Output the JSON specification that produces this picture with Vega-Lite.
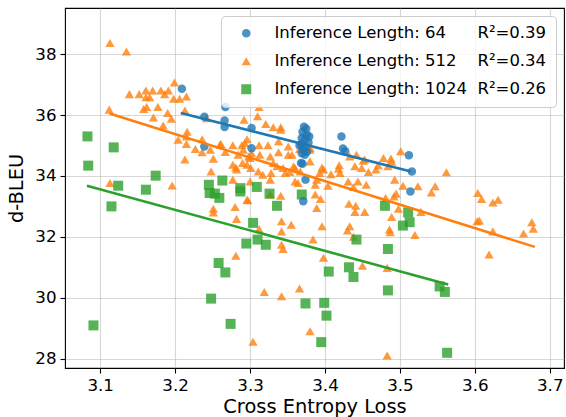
{
  "$schema": "https://vega.github.io/schema/vega-lite/v6.json",
  "width": 499,
  "height": 360,
  "autosize": {"type": "none"},
  "padding": {"left": 65, "top": 8, "right": 2, "bottom": 49},
  "background": "white",
  "config": {
    "font": "DejaVu Sans",
    "view": {"stroke": "black", "strokeWidth": 1.1},
    "axis": {
      "labelFont": "DejaVu Sans", "labelFontSize": 16.7, "labelColor": "black",
      "titleFont": "DejaVu Sans", "titleFontSize": 19.4, "titleFontWeight": "normal", "titleColor": "black",
      "tickColor": "black", "tickSize": 5, "tickWidth": 1.1, "labelPadding": 4,
      "domain": false, "gridColor": "#b0b0b0", "gridOpacity": 0.5, "gridWidth": 1.1
    },
    "legend": {
      "labelFont": "DejaVu Sans", "labelFontSize": 16.5, "labelColor": "black",
      "orient": "top-right", "offset": 8, "padding": 9, "symbolOffset": 8,
      "labelOffset": 20, "rowPadding": 11, "cornerRadius": 4,
      "strokeColor": "#cccccc", "fillColor": "rgba(255,255,255,0.8)",
      "symbolSize": 72, "symbolOpacity": 0.8, "symbolStrokeWidth": 0, "title": null,
      "labelLimit": 400
    }
  },
  "datasets": {
    "pts": [
      {"s":"512","x":3.113,"y":38.37},{"s":"512","x":3.135,"y":38.09},{"s":"512","x":3.199,"y":37.07},{"s":"512","x":3.139,"y":36.69},
      {"s":"512","x":3.152,"y":36.69},{"s":"512","x":3.161,"y":36.81},{"s":"512","x":3.170,"y":36.81},{"s":"512","x":3.161,"y":36.59},
      {"s":"512","x":3.166,"y":36.59},{"s":"512","x":3.181,"y":36.81},{"s":"512","x":3.186,"y":36.69},{"s":"512","x":3.191,"y":36.81},
      {"s":"512","x":3.198,"y":36.54},{"s":"512","x":3.206,"y":36.54},{"s":"512","x":3.215,"y":36.61},{"s":"512","x":3.213,"y":36.15},
      {"s":"512","x":3.112,"y":36.18},{"s":"512","x":3.158,"y":36.20},{"s":"512","x":3.162,"y":36.27},{"s":"512","x":3.177,"y":36.27},
      {"s":"512","x":3.190,"y":36.07},{"s":"512","x":3.171,"y":35.92},{"s":"512","x":3.195,"y":35.88},{"s":"512","x":3.184,"y":35.66},
      {"s":"512","x":3.242,"y":35.90},{"s":"512","x":3.216,"y":35.45},{"s":"512","x":3.204,"y":35.19},{"s":"512","x":3.215,"y":35.05},
      {"s":"512","x":3.227,"y":34.89},{"s":"512","x":3.236,"y":35.21},{"s":"512","x":3.213,"y":34.54},{"s":"512","x":3.236,"y":34.78},
      {"s":"512","x":3.251,"y":34.57},{"s":"512","x":3.248,"y":34.15},{"s":"512","x":3.261,"y":35.05},{"s":"512","x":3.277,"y":35.01},
      {"s":"512","x":3.293,"y":35.08},{"s":"512","x":3.292,"y":35.85},{"s":"512","x":3.312,"y":36.27},{"s":"512","x":3.310,"y":35.96},
      {"s":"512","x":3.321,"y":35.71},{"s":"512","x":3.331,"y":35.60},{"s":"512","x":3.341,"y":35.60},{"s":"512","x":3.324,"y":35.01},
      {"s":"512","x":3.312,"y":35.01},{"s":"512","x":3.296,"y":35.21},{"s":"512","x":3.289,"y":35.01},{"s":"512","x":3.302,"y":34.75},
      {"s":"512","x":3.313,"y":34.70},{"s":"512","x":3.290,"y":34.43},{"s":"512","x":3.284,"y":34.70},{"s":"512","x":3.277,"y":34.37},
      {"s":"512","x":3.301,"y":34.26},{"s":"512","x":3.311,"y":34.15},{"s":"512","x":3.327,"y":34.64},{"s":"512","x":3.338,"y":34.78},
      {"s":"512","x":3.336,"y":34.32},{"s":"512","x":3.328,"y":34.10},{"s":"512","x":3.327,"y":33.88},{"s":"512","x":3.317,"y":34.04},
      {"s":"512","x":3.351,"y":34.70},{"s":"512","x":3.358,"y":34.32},{"s":"512","x":3.353,"y":34.13},{"s":"512","x":3.366,"y":34.89},
      {"s":"512","x":3.367,"y":34.15},{"s":"512","x":3.360,"y":33.82},{"s":"512","x":3.389,"y":33.88},{"s":"512","x":3.277,"y":33.88},
      {"s":"512","x":3.300,"y":33.82},{"s":"512","x":3.196,"y":33.69},{"s":"512","x":3.113,"y":33.77},{"s":"512","x":3.341,"y":33.35},
      {"s":"512","x":3.327,"y":33.39},{"s":"512","x":3.251,"y":32.92},{"s":"512","x":3.251,"y":32.80},{"s":"512","x":3.280,"y":32.98},
      {"s":"512","x":3.296,"y":33.22},{"s":"512","x":3.282,"y":32.59},{"s":"512","x":3.312,"y":32.26},{"s":"512","x":3.342,"y":32.51},
      {"s":"512","x":3.342,"y":32.18},{"s":"512","x":3.355,"y":32.40},{"s":"512","x":3.342,"y":31.74},{"s":"512","x":3.344,"y":31.60},
      {"s":"512","x":3.384,"y":31.91},{"s":"512","x":3.281,"y":31.38},{"s":"512","x":3.319,"y":30.19},{"s":"512","x":3.342,"y":30.05},
      {"s":"512","x":3.366,"y":30.30},{"s":"512","x":3.380,"y":28.90},{"s":"512","x":3.304,"y":28.55},{"s":"512","x":3.389,"y":32.95},
      {"s":"512","x":3.387,"y":33.71},{"s":"512","x":3.404,"y":33.68},{"s":"512","x":3.438,"y":33.64},{"s":"512","x":3.455,"y":33.71},
      {"s":"512","x":3.493,"y":33.88},{"s":"512","x":3.504,"y":33.68},{"s":"512","x":3.524,"y":33.66},{"s":"512","x":3.542,"y":33.46},
      {"s":"512","x":3.547,"y":33.66},{"s":"512","x":3.387,"y":33.39},{"s":"512","x":3.394,"y":33.24},{"s":"512","x":3.432,"y":33.09},
      {"s":"512","x":3.441,"y":33.02},{"s":"512","x":3.440,"y":32.82},{"s":"512","x":3.453,"y":32.82},{"s":"512","x":3.481,"y":33.28},
      {"s":"512","x":3.495,"y":33.42},{"s":"512","x":3.492,"y":33.33},{"s":"512","x":3.498,"y":32.92},{"s":"512","x":3.489,"y":32.65},
      {"s":"512","x":3.520,"y":32.06},{"s":"512","x":3.528,"y":32.82},{"s":"512","x":3.433,"y":32.35},{"s":"512","x":3.430,"y":32.21},
      {"s":"512","x":3.396,"y":32.35},{"s":"512","x":3.438,"y":32.00},{"s":"512","x":3.486,"y":32.24},{"s":"512","x":3.487,"y":32.15},
      {"s":"512","x":3.398,"y":31.31},{"s":"512","x":3.450,"y":31.05},{"s":"512","x":3.483,"y":30.98},{"s":"512","x":3.483,"y":28.10},
      {"s":"512","x":3.604,"y":33.44},{"s":"512","x":3.609,"y":33.24},{"s":"512","x":3.624,"y":33.13},{"s":"512","x":3.631,"y":33.22},
      {"s":"512","x":3.603,"y":32.51},{"s":"512","x":3.606,"y":32.54},{"s":"512","x":3.624,"y":32.18},{"s":"512","x":3.619,"y":31.42},
      {"s":"512","x":3.665,"y":32.11},{"s":"512","x":3.676,"y":32.48},{"s":"512","x":3.678,"y":32.27},{"s":"512","x":3.562,"y":34.12},
      {"s":"512","x":3.501,"y":34.81},{"s":"512","x":3.433,"y":34.64},{"s":"512","x":3.419,"y":34.35},{"s":"512","x":3.440,"y":34.32},
      {"s":"512","x":3.449,"y":34.26},{"s":"512","x":3.458,"y":34.13},{"s":"512","x":3.471,"y":34.35},{"s":"512","x":3.484,"y":34.32},
      {"s":"512","x":3.489,"y":34.48},{"s":"512","x":3.393,"y":34.10},{"s":"512","x":3.398,"y":34.21},{"s":"512","x":3.380,"y":34.92},
      {"s":"512","x":3.431,"y":33.82},{"s":"512","x":3.444,"y":33.82},{"s":"512","x":3.453,"y":34.54},{"s":"512","x":3.468,"y":34.21},
      {"s":"512","x":3.341,"y":35.52},{"s":"512","x":3.338,"y":35.14},{"s":"512","x":3.351,"y":34.97},{"s":"512","x":3.356,"y":34.70},
      {"s":"512","x":3.380,"y":34.86},{"s":"512","x":3.300,"y":34.59},{"s":"512","x":3.331,"y":34.43},{"s":"512","x":3.344,"y":34.26},
      {"s":"512","x":3.360,"y":34.26},{"s":"512","x":3.380,"y":34.48},{"s":"512","x":3.396,"y":34.28},{"s":"512","x":3.408,"y":34.06},
      {"s":"512","x":3.418,"y":34.24},{"s":"512","x":3.215,"y":35.30},{"s":"512","x":3.247,"y":34.86},{"s":"512","x":3.260,"y":35.03},
      {"s":"512","x":3.267,"y":34.79},{"s":"512","x":3.281,"y":34.28},{"s":"512","x":3.291,"y":34.86},{"s":"512","x":3.298,"y":34.64},
      {"s":"512","x":3.296,"y":34.37},{"s":"512","x":3.282,"y":34.21},{"s":"512","x":3.347,"y":34.10},{"s":"512","x":3.364,"y":33.77},
      {"s":"512","x":3.420,"y":34.10},{"s":"512","x":3.297,"y":33.20},{"s":"512","x":3.442,"y":34.70},{"s":"512","x":3.451,"y":34.50},
      {"s":"512","x":3.478,"y":34.59},{"s":"512","x":3.488,"y":34.57},

      {"s":"1024","x":3.083,"y":35.30},{"s":"1024","x":3.118,"y":34.94},{"s":"1024","x":3.084,"y":34.34},{"s":"1024","x":3.124,"y":33.68},
      {"s":"1024","x":3.174,"y":34.01},{"s":"1024","x":3.161,"y":33.55},{"s":"1024","x":3.115,"y":33.00},{"s":"1024","x":3.245,"y":33.71},
      {"s":"1024","x":3.246,"y":33.44},{"s":"1024","x":3.253,"y":33.42},{"s":"1024","x":3.259,"y":33.28},{"s":"1024","x":3.263,"y":33.85},
      {"s":"1024","x":3.287,"y":33.60},{"s":"1024","x":3.287,"y":33.49},{"s":"1024","x":3.309,"y":33.64},{"s":"1024","x":3.326,"y":33.42},
      {"s":"1024","x":3.336,"y":33.02},{"s":"1024","x":3.369,"y":33.39},{"s":"1024","x":3.304,"y":32.46},{"s":"1024","x":3.310,"y":31.91},
      {"s":"1024","x":3.295,"y":31.78},{"s":"1024","x":3.321,"y":31.74},{"s":"1024","x":3.258,"y":31.14},{"s":"1024","x":3.267,"y":30.83},
      {"s":"1024","x":3.248,"y":29.97},{"s":"1024","x":3.274,"y":29.14},{"s":"1024","x":3.091,"y":29.09},{"s":"1024","x":3.374,"y":29.81},
      {"s":"1024","x":3.480,"y":33.02},{"s":"1024","x":3.511,"y":32.80},{"s":"1024","x":3.513,"y":32.48},{"s":"1024","x":3.504,"y":32.37},
      {"s":"1024","x":3.442,"y":31.91},{"s":"1024","x":3.484,"y":31.60},{"s":"1024","x":3.405,"y":30.86},{"s":"1024","x":3.432,"y":31.00},
      {"s":"1024","x":3.438,"y":30.68},{"s":"1024","x":3.484,"y":30.24},{"s":"1024","x":3.399,"y":29.83},{"s":"1024","x":3.402,"y":29.41},
      {"s":"1024","x":3.395,"y":28.54},{"s":"1024","x":3.553,"y":30.37},{"s":"1024","x":3.560,"y":30.19},{"s":"1024","x":3.563,"y":28.19},

      {"s":"64","x":3.209,"y":36.87},{"s":"64","x":3.267,"y":36.27},{"s":"64","x":3.239,"y":35.95},{"s":"64","x":3.266,"y":35.82},
      {"s":"64","x":3.266,"y":35.61},{"s":"64","x":3.302,"y":35.58},{"s":"64","x":3.302,"y":34.91},{"s":"64","x":3.239,"y":34.97},
      {"s":"64","x":3.422,"y":35.30},{"s":"64","x":3.424,"y":34.90},{"s":"64","x":3.427,"y":34.81},{"s":"64","x":3.512,"y":34.68},
      {"s":"64","x":3.516,"y":34.15},{"s":"64","x":3.514,"y":33.49},{"s":"64","x":3.371,"y":33.17},{"s":"64","x":3.374,"y":33.88},
      {"s":"64","x":3.370,"y":34.40},{"s":"64","x":3.368,"y":34.43},{"s":"64","x":3.372,"y":35.62},{"s":"64","x":3.375,"y":35.55},
      {"s":"64","x":3.370,"y":35.45},{"s":"64","x":3.376,"y":35.35},{"s":"64","x":3.369,"y":35.25},{"s":"64","x":3.373,"y":35.20},
      {"s":"64","x":3.378,"y":35.10},{"s":"64","x":3.368,"y":35.05},{"s":"64","x":3.374,"y":34.95},{"s":"64","x":3.371,"y":34.88},
      {"s":"64","x":3.376,"y":34.80},{"s":"64","x":3.369,"y":34.75},{"s":"64","x":3.373,"y":34.70},{"s":"64","x":3.366,"y":35.00},
      {"s":"64","x":3.379,"y":35.30}
    ],
    "fits": [
      {"s":"64","x":3.2076,"y":36.07},{"s":"64","x":3.5147,"y":34.15},
      {"s":"512","x":3.1124,"y":36.05},{"s":"512","x":3.680,"y":31.67},
      {"s":"1024","x":3.0823,"y":33.68},{"s":"1024","x":3.5644,"y":30.43}
    ]
  },
  "layer": [
    {
      "data": {"name": "pts"},
      "mark": {"type": "point", "filled": true, "opacity": 0.8, "strokeWidth": 0},
      "encoding": {
        "x": {"field": "x", "type": "quantitative", "title": "Cross Entropy Loss",
              "scale": {"domain": [3.053, 3.719], "nice": false, "zero": false},
              "axis": {"values": [3.1, 3.2, 3.3, 3.4, 3.5, 3.6, 3.7], "format": ".1f", "titlePadding": 4}},
        "y": {"field": "y", "type": "quantitative", "title": "d-BLEU",
              "scale": {"domain": [27.69, 39.52], "nice": false, "zero": false},
              "axis": {"values": [28, 30, 32, 34, 36, 38], "titlePadding": 8}},
        "color": {"field": "s", "type": "nominal",
                  "scale": {"domain": ["64", "512", "1024"], "range": ["#1f77b4", "#ff7f0e", "#2ca02c"]},
                  "legend": {"labelExpr": "datum.value == '64' ? 'Inference Length: 64\u00a0\u00a0\u00a0\u00a0\u00a0\u00a0R²=0.39' : datum.value == '512' ? 'Inference Length: 512\u00a0\u00a0\u00a0\u00a0R²=0.34' : 'Inference Length: 1024\u00a0\u00a0R²=0.26'"}},
        "shape": {"field": "s", "type": "nominal",
                  "scale": {"domain": ["64", "512", "1024"], "range": ["circle", "triangle-up", "square"]}},
        "size": {"field": "s", "type": "nominal",
                 "scale": {"domain": ["64", "512", "1024"], "range": [72, 100, 72]}, "legend": null}
      }
    },
    {
      "data": {"name": "fits"},
      "mark": {"type": "line", "strokeWidth": 2.6},
      "encoding": {
        "x": {"field": "x", "type": "quantitative"},
        "y": {"field": "y", "type": "quantitative"},
        "detail": {"field": "s"},
        "stroke": {"field": "s", "type": "nominal",
                   "scale": {"domain": ["64", "512", "1024"], "range": ["#1f77b4", "#ff7f0e", "#2ca02c"]},
                   "legend": null}
      }
    }
  ]
}
